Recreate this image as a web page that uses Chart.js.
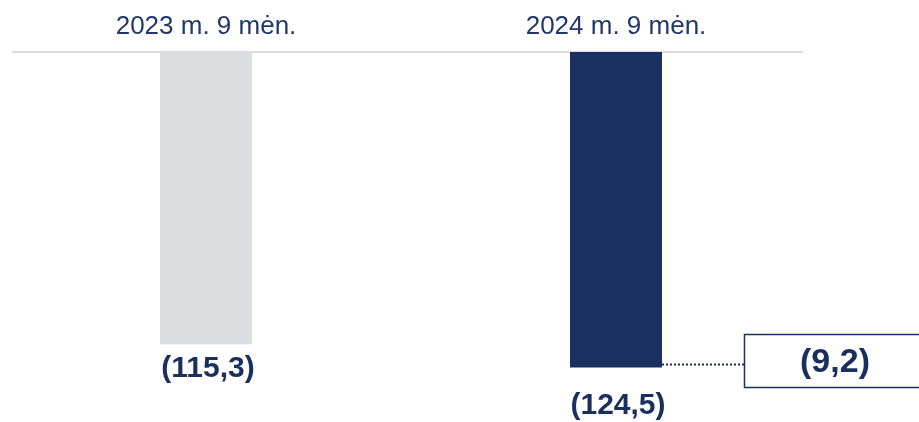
<!DOCTYPE html>
<html lang="lt">
<head>
<meta charset="UTF-8">
<title>Palyginimas</title>
<script src="https://cdn.jsdelivr.net/npm/chart.js"></script>
<style>
  html, body { margin: 0; padding: 0; background: #fff; }
  #wrap { width: 919px; height: 422px; position: relative; }
</style>
</head>
<body>
<div id="wrap"><canvas id="chart"></canvas></div>
<script>
  // data
  var periods = ['2023 m. 9 mėn.', '2024 m. 9 mėn.'];
  var amounts = [115.3, 124.5];
  var barColors = ['#dcdde0', '#1a2f62'];
  var change = [9.2];

  var navy = '#1b2f5f';

  function fmt(v) {
    return '(' + v.toFixed(1).replace('.', ',') + ')';
  }

  // grey baseline a bit shorter than the plot area
  var baseLine = {
    id: 'baseLine',
    beforeDatasetsDraw: function(chart) {
      var ctx = chart.ctx, a = chart.chartArea;
      ctx.save();
      ctx.strokeStyle = '#dcdcdc';
      ctx.lineWidth = 2;
      ctx.beginPath();
      ctx.moveTo(a.left + 11, a.top);
      ctx.lineTo(a.right - 18, a.top);
      ctx.stroke();
      ctx.restore();
    }
  };

  // values under the bars + the box with the change
  var valueLabels = {
    id: 'valueLabels',
    afterDatasetsDraw: function(chart, args, opts) {
      var ctx = chart.ctx;
      var bars = chart.getDatasetMeta(0).data;
      ctx.save();
      ctx.fillStyle = navy;
      ctx.textAlign = 'center';
      ctx.textBaseline = 'middle';
      ctx.font = 'bold 30px "Liberation Sans", Arial, sans-serif';
      bars.forEach(function(bar, i) {
        ctx.fillText(fmt(amounts[i]), bar.x + 2, bar.y + opts.offsets[i]);
      });

      // dotted connector from last bar to the box
      var last = bars[bars.length - 1];
      var right = last.x + last.width / 2;
      var lineY = last.y - 3;
      ctx.strokeStyle = navy;
      ctx.lineWidth = 2;
      ctx.setLineDash([2, 2]);
      ctx.beginPath();
      ctx.moveTo(right, lineY);
      ctx.lineTo(opts.boxLeft, lineY);
      ctx.stroke();

      ctx.setLineDash([]);
      ctx.lineWidth = 1.5;
      var boxTop = last.y - 33;
      ctx.strokeRect(opts.boxLeft, boxTop, 200, 53);
      ctx.font = 'bold 34px "Liberation Sans", Arial, sans-serif';
      ctx.fillText(fmt(change[0]), 835, boxTop + 28);
      ctx.restore();
    }
  };

  new Chart(document.getElementById('chart'), {
    type: 'bar',
    data: {
      labels: periods,
      datasets: [{
        data: amounts,
        backgroundColor: barColors,
        borderWidth: 0,
        categoryPercentage: 1,
        barPercentage: 0.2244
      }]
    },
    options: {
      responsive: true,
      maintainAspectRatio: false,
      animation: false,
      layout: { padding: { top: 2, left: 1, right: 98, bottom: 0 } },
      plugins: {
        legend: { display: false },
        tooltip: { enabled: false },
        valueLabels: { offsets: [25, 38], boxLeft: 744.5 }
      },
      scales: {
        x: {
          position: 'top',
          grid: { display: false, drawTicks: false },
          border: { display: false },
          ticks: {
            color: '#22386a',
            padding: 12,
            font: { family: '"Liberation Sans", Arial, sans-serif', size: 26, lineHeight: 1 }
          }
        },
        y: {
          display: false,
          reverse: true,
          min: 0,
          max: 146
        }
      }
    },
    plugins: [baseLine, valueLabels]
  });
</script>
</body>
</html>
